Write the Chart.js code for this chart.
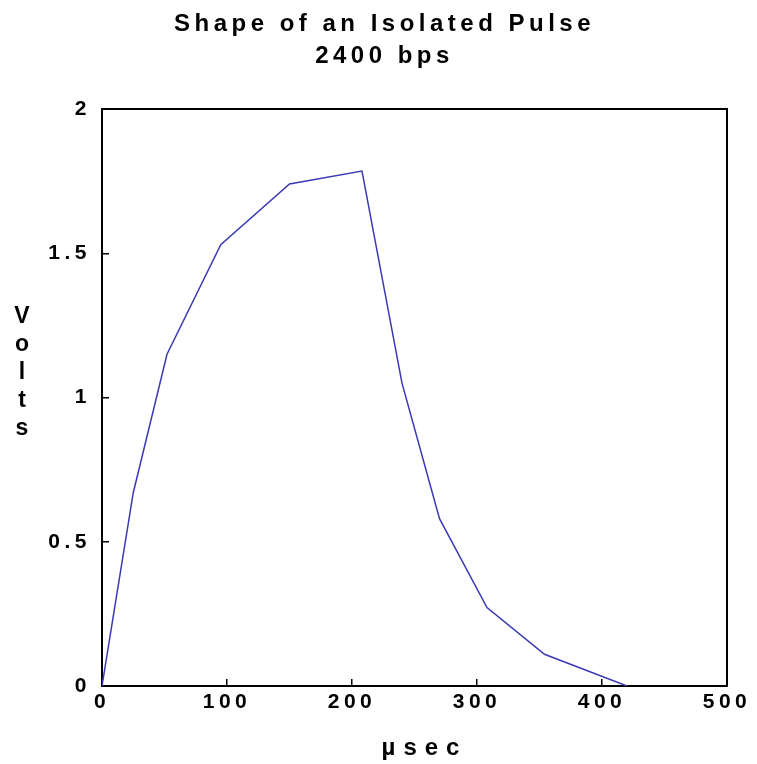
<!DOCTYPE html>
<html>
<head>
<meta charset="utf-8">
<title>Shape of an Isolated Pulse</title>
<script src="https://cdn.jsdelivr.net/npm/chart.js@4/dist/chart.umd.min.js"></script>
<style>
  html, body { margin: 0; padding: 0; background: #fff; }
  #wrap { width: 757px; height: 764px; position: relative; }
</style>
</head>
<body>
<div id="wrap"><canvas id="chart-pulse"></canvas></div>
<script>
/* ── Data ── */
const TITLE_LINES = ['Shape of an Isolated Pulse', '2400 bps'];
const X_LABEL = 'µsec';
const Y_LABEL = 'Volts';
const TIME_US = [0, 25, 52, 95, 150, 208, 240, 270, 308, 354, 420];
const VOLTS   = [0, 0.67, 1.15, 1.53, 1.74, 1.785, 1.05, 0.58, 0.272, 0.11, 0];
const X_TICKS = [0, 100, 200, 300, 400, 500];
const Y_TICKS = [0, 0.5, 1, 1.5, 2];
const Y_TICK_LABELS = ['0', '0.5', '1', '1.5', '2'];

const FONT = '"Liberation Sans", Arial, sans-serif';
const INK = '#000';
const LINE_BLUE = '#3a3ab4';

/* ── Plugin: letter spacing, frame, axis labels ── */
const pulseDecor = {
  id: 'pulseDecor',
  beforeLayout(chart) { chart.ctx.letterSpacing = '4.5px'; },
  beforeDraw(chart) { chart.ctx.letterSpacing = '4.5px'; },
  afterDraw(chart) {
    const { ctx, chartArea: a } = chart;
    ctx.save();
    // top + right edges of the box (left/bottom come from the scale borders)
    ctx.strokeStyle = INK;
    ctx.lineWidth = 2;
    ctx.beginPath();
    ctx.moveTo(a.left, a.top);
    ctx.lineTo(a.right, a.top);
    ctx.lineTo(a.right, a.bottom);
    ctx.stroke();

    ctx.fillStyle = INK;
    ctx.textBaseline = 'alphabetic';

    // y label, one letter per line
    ctx.letterSpacing = '0px';
    ctx.font = 'bold 23px ' + FONT;
    ctx.textAlign = 'center';
    Y_LABEL.split('').forEach((ch, i) => {
      ctx.fillText(ch, 22, a.top + 214 + i * 28);
    });

    // x label
    ctx.letterSpacing = '8px';
    ctx.font = 'bold 24px ' + FONT;
    ctx.textAlign = 'center';
    ctx.fillText(X_LABEL, (a.left + a.right) / 2 + 10, a.bottom + 69);
    ctx.restore();
  },
};

new Chart(document.getElementById('chart-pulse'), {
  type: 'scatter',
  data: {
    datasets: [{
      label: Y_LABEL,
      data: TIME_US.map((t, i) => ({ x: t, y: VOLTS[i] })),
      showLine: true,
      borderColor: LINE_BLUE,
      borderWidth: 1.5,
      pointRadius: 0,
      tension: 0,
    }],
  },
  options: {
    responsive: true,
    maintainAspectRatio: false,
    animation: false,
    layout: { padding: { left: 42, right: 30, top: 0, bottom: 0 } },
    plugins: {
      legend: { display: false },
      tooltip: { enabled: false },
      title: {
        display: true,
        text: TITLE_LINES,
        color: INK,
        font: { family: FONT, size: 24, weight: 'bold', lineHeight: 1.3334 },
        padding: { top: 8, bottom: 37 },
      },
    },
    scales: {
      x: {
        type: 'linear',
        min: 0,
        max: 500,
        afterBuildTicks: s => { s.ticks = X_TICKS.map(v => ({ value: v })); },
        afterFit: s => { s.height = 78; s.paddingRight = 0; s.paddingLeft = 0; },
        ticks: { color: INK, font: { family: FONT, size: 21, weight: 'bold' }, padding: 11, maxRotation: 0 },
        grid: { drawOnChartArea: false, tickLength: -7, color: INK, lineWidth: 1.5 },
        border: { display: true, color: INK, width: 2 },
      },
      y: {
        min: 0,
        max: 2,
        afterBuildTicks: s => { s.ticks = Y_TICKS.map(v => ({ value: v })); },
        afterFit: s => { s.width = 60; },
        ticks: {
          color: INK,
          font: { family: FONT, size: 21, weight: 'bold' },
          padding: 18,
          callback: (v, i) => Y_TICK_LABELS[i],
        },
        grid: { drawOnChartArea: false, tickLength: -7, color: INK, lineWidth: 1.5 },
        border: { display: true, color: INK, width: 2 },
      },
    },
  },
  plugins: [pulseDecor],
});
</script>
</body>
</html>
